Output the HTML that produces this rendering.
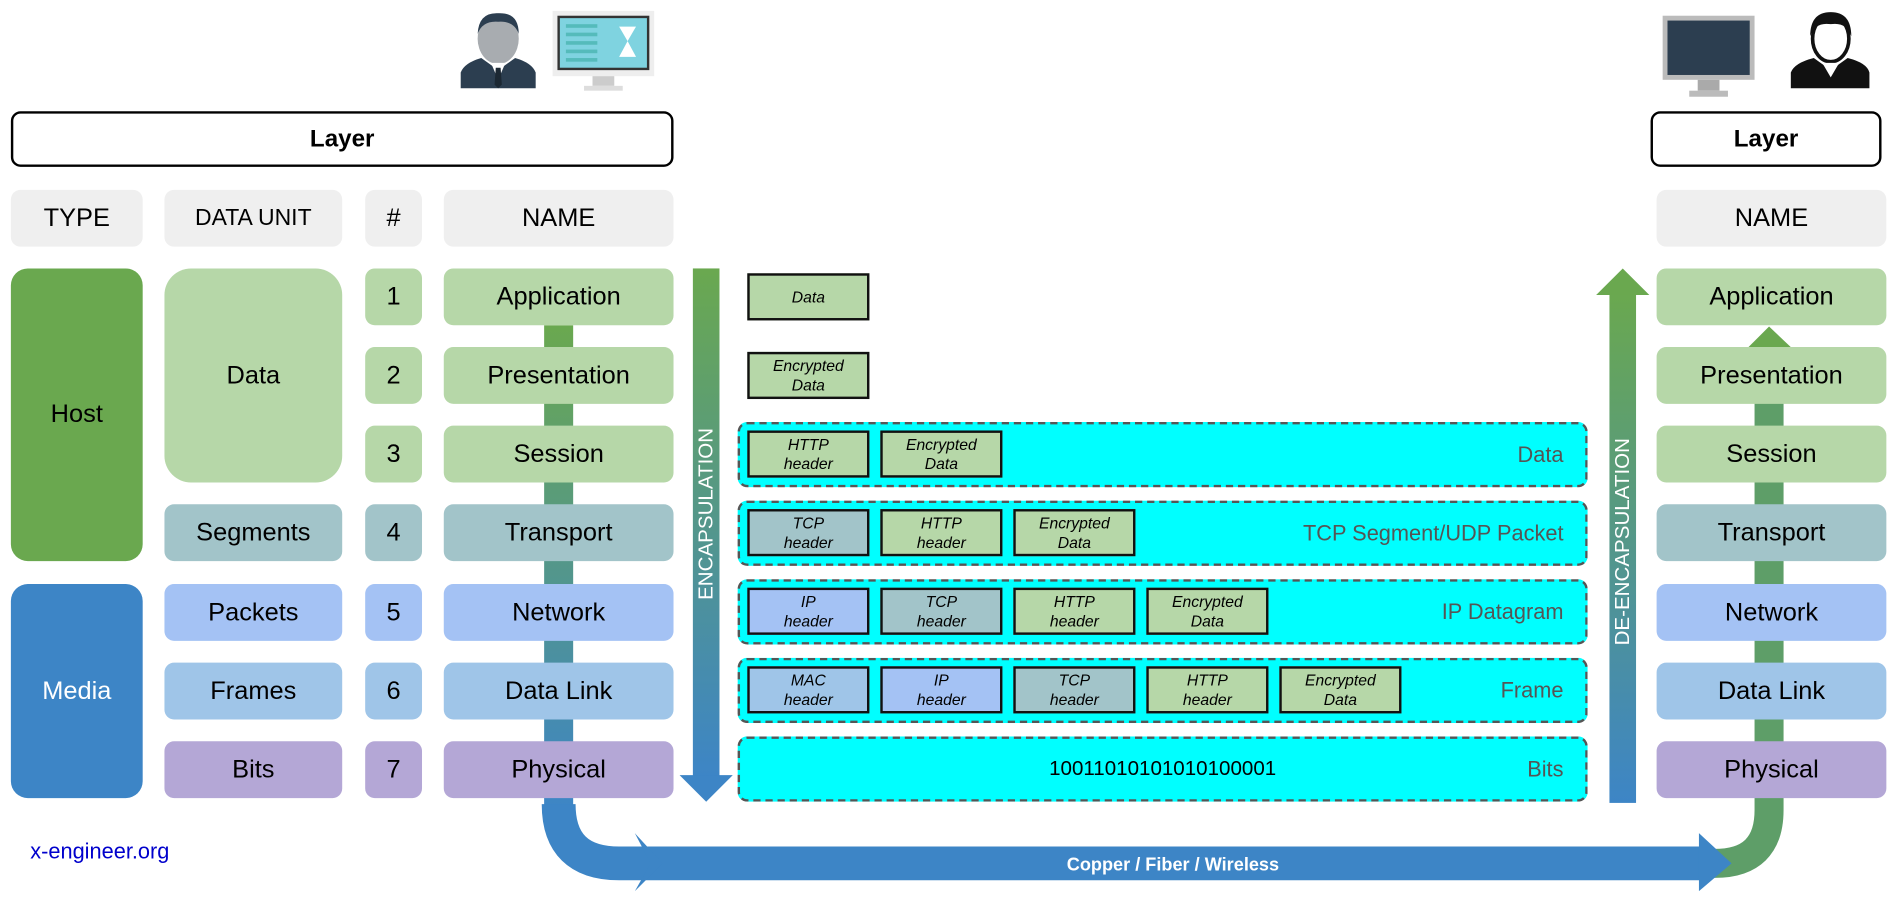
<!DOCTYPE html>
<html><head><meta charset="utf-8"><style>
html,body{margin:0;padding:0;background:#fff;overflow:hidden}
#w{position:absolute;left:0;top:0;width:1568px;height:744px;transform:scale(1.2092);transform-origin:0 0;font-family:"Liberation Sans",sans-serif}
.b{position:absolute;display:flex;align-items:center;justify-content:center;text-align:center;box-sizing:border-box;border-radius:8px;color:#000}
.h{background:#efefef;font-size:21px}
.r{font-size:21px}
.g{background:#b6d7a8}.t{background:#a2c4c9}.n{background:#a4c2f4}.d{background:#9fc5e8}.p{background:#b4a7d6}
.c{position:absolute;left:610px;width:703px;height:54px;background:#00ffff;border:2px dashed #555;border-radius:8px;box-sizing:border-box}
.c .l{position:absolute;right:18px;top:0;height:100%;display:flex;align-items:center;font-size:18px;color:#555}
.ib{position:absolute;width:101px;height:39px;border:2px solid #111;box-sizing:border-box;font-style:italic;font-size:13px;line-height:16px;display:flex;align-items:center;justify-content:center;text-align:center;border-radius:0}
</style></head><body><div id="w">
<svg width="1568" height="744" style="position:absolute;left:0;top:0">
<defs>
<linearGradient id="gv" x1="0" y1="0" x2="0" y2="1"><stop offset="0" stop-color="#6aa84f"/><stop offset="1" stop-color="#3d85c6"/></linearGradient>
</defs>
<rect x="450" y="269" width="24" height="400" fill="url(#gv)"/>
<path d="M462 665 Q462 714 512 714 L1410 714" stroke="#3d85c6" stroke-width="28" fill="none"/>
<path d="M1408 714 L1418 714 Q1463 714 1463 670 L1463 288" stroke="#5e9e68" stroke-width="24" fill="none"/>
<polygon points="1445,288 1482,288 1463,270" fill="#6aa84f"/>
<polygon points="525,689 548,714 525,737 538,714" fill="#3d85c6"/>
<polygon points="1405,689 1432,714 1405,737" fill="#3d85c6"/>
<rect x="573" y="222" width="22" height="420" fill="url(#gv)"/>
<polygon points="562,641 606,641 584,663" fill="#3d85c6"/>
<rect x="1331" y="243" width="22" height="421" fill="url(#gv)"/>
<polygon points="1320,244 1364,244 1342,222" fill="#6aa84f"/>
<text x="584" y="425" transform="rotate(-90 584 425)" text-anchor="middle" dominant-baseline="central" fill="#fff" font-size="17" font-family="Liberation Sans">ENCAPSULATION</text>
<text x="1342" y="448" transform="rotate(-90 1342 448)" text-anchor="middle" dominant-baseline="central" fill="#fff" font-size="17" font-family="Liberation Sans">DE-ENCAPSULATION</text>
<text x="970" y="720" text-anchor="middle" fill="#fff" font-size="15" font-weight="bold" font-family="Liberation Sans">Copper / Fiber / Wireless</text>
<ellipse cx="412" cy="32" rx="17" ry="21" fill="#a8acb0"/>
<path d="M395 28 Q396 10 412 11 Q429 10 429 28 Q425 17 412 18 Q399 17 395 28Z" fill="#2c3e50"/>
<path d="M381 73 L381 60 Q384 52 398 48 L412 58 L426 48 Q440 52 443 60 L443 73Z" fill="#2c3e50"/>
<polygon points="406,52 418,52 412,66" fill="#fff"/><polygon points="410,56 414,56 415,70 412,73 409,70" fill="#1c2833"/>
<rect x="457" y="9" width="84" height="54" fill="#eee"/><rect x="461" y="13" width="76" height="45" fill="#333"/><rect x="463" y="15" width="72" height="41" fill="#7fd3e0"/>
<rect x="468" y="20" width="26" height="3" fill="#5bb"/><rect x="468" y="27" width="26" height="3" fill="#5bb"/><rect x="468" y="34" width="26" height="3" fill="#5bb"/><rect x="468" y="41" width="26" height="3" fill="#5bb"/><rect x="468" y="48" width="26" height="3" fill="#5bb"/>
<polygon points="512,22 526,22 519,34 526,47 512,47 519,34" fill="#fff"/>
<rect x="490" y="63" width="18" height="8" fill="#ccc"/><rect x="483" y="71" width="32" height="4" fill="#ddd"/>
<rect x="1375" y="13" width="76" height="53" fill="#bbb"/><rect x="1379" y="17" width="68" height="45" fill="#2c3e50"/>
<rect x="1404" y="66" width="18" height="9" fill="#aaa"/><rect x="1397" y="75" width="32" height="5" fill="#bbb"/>
<ellipse cx="1514" cy="32" rx="15" ry="19" fill="#fff" stroke="#111" stroke-width="3"/>
<path d="M1497 30 Q1497 10 1514 10 Q1531 10 1531 30 Q1527 18 1514 20 Q1501 18 1497 30Z" fill="#111"/>
<path d="M1481 73 L1481 60 Q1484 52 1500 48 L1514 58 L1528 48 Q1544 52 1546 60 L1546 73Z" fill="#111"/>
<polygon points="1507,52 1521,52 1514,64" fill="#fff"/>
</svg>
<div class="b" style="left:9px;top:92px;width:548px;height:46px;border:2px solid #000;font-weight:bold;font-size:20px">Layer</div>
<div class="b" style="left:1365px;top:92px;width:191px;height:46px;border:2px solid #000;font-weight:bold;font-size:20px">Layer</div>
<div class="b h" style="left:9px;top:157px;width:109px;height:47px">TYPE</div>
<div class="b h" style="left:136px;top:157px;width:147px;height:47px;font-size:19px">DATA UNIT</div>
<div class="b h" style="left:302px;top:157px;width:47px;height:47px">#</div>
<div class="b h" style="left:367px;top:157px;width:190px;height:47px">NAME</div>
<div class="b h" style="left:1370px;top:157px;width:190px;height:47px">NAME</div>
<div class="b r" style="left:9px;top:222px;width:109px;height:242px;background:#6aa84f;border-radius:14px">Host</div>
<div class="b r" style="left:9px;top:483px;width:109px;height:177px;background:#3d85c6;color:#fff;border-radius:14px">Media</div>
<div class="b r g" style="left:136px;top:222px;width:147px;height:177px;border-radius:22px">Data</div>
<div class="b r t" style="left:136px;top:417px;width:147px;height:47px">Segments</div>
<div class="b r n" style="left:136px;top:483px;width:147px;height:47px">Packets</div>
<div class="b r d" style="left:136px;top:548px;width:147px;height:47px">Frames</div>
<div class="b r p" style="left:136px;top:613px;width:147px;height:47px">Bits</div>

<div class="b r g" style="left:302px;top:222px;width:47px;height:47px">1</div>
<div class="b r g" style="left:302px;top:287px;width:47px;height:47px">2</div>
<div class="b r g" style="left:302px;top:352px;width:47px;height:47px">3</div>
<div class="b r t" style="left:302px;top:417px;width:47px;height:47px">4</div>
<div class="b r n" style="left:302px;top:483px;width:47px;height:47px">5</div>
<div class="b r d" style="left:302px;top:548px;width:47px;height:47px">6</div>
<div class="b r p" style="left:302px;top:613px;width:47px;height:47px">7</div>

<div class="b r g" style="left:367px;top:222px;width:190px;height:47px">Application</div>
<div class="b r g" style="left:367px;top:287px;width:190px;height:47px">Presentation</div>
<div class="b r g" style="left:367px;top:352px;width:190px;height:47px">Session</div>
<div class="b r t" style="left:367px;top:417px;width:190px;height:47px">Transport</div>
<div class="b r n" style="left:367px;top:483px;width:190px;height:47px">Network</div>
<div class="b r d" style="left:367px;top:548px;width:190px;height:47px">Data Link</div>
<div class="b r p" style="left:367px;top:613px;width:190px;height:47px">Physical</div>

<div class="b r g" style="left:1370px;top:222px;width:190px;height:47px">Application</div>
<div class="b r g" style="left:1370px;top:287px;width:190px;height:47px">Presentation</div>
<div class="b r g" style="left:1370px;top:352px;width:190px;height:47px">Session</div>
<div class="b r t" style="left:1370px;top:417px;width:190px;height:47px">Transport</div>
<div class="b r n" style="left:1370px;top:483px;width:190px;height:47px">Network</div>
<div class="b r d" style="left:1370px;top:548px;width:190px;height:47px">Data Link</div>
<div class="b r p" style="left:1370px;top:613px;width:190px;height:47px">Physical</div>

<div class="ib g" style="left:618px;top:226px">Data</div>
<div class="ib g" style="left:618px;top:291px">Encrypted<br>Data</div>

<div class="c" style="top:349px"><div class="ib g" style="left:6px;top:5px">HTTP<br>header</div><div class="ib g" style="left:116px;top:5px">Encrypted<br>Data</div><div class="l">Data</div></div>
<div class="c" style="top:414px"><div class="ib t" style="left:6px;top:5px">TCP<br>header</div><div class="ib g" style="left:116px;top:5px">HTTP<br>header</div><div class="ib g" style="left:226px;top:5px">Encrypted<br>Data</div><div class="l">TCP Segment/UDP Packet</div></div>
<div class="c" style="top:479px"><div class="ib n" style="left:6px;top:5px">IP<br>header</div><div class="ib t" style="left:116px;top:5px">TCP<br>header</div><div class="ib g" style="left:226px;top:5px">HTTP<br>header</div><div class="ib g" style="left:336px;top:5px">Encrypted<br>Data</div><div class="l">IP Datagram</div></div>
<div class="c" style="top:544px"><div class="ib d" style="left:6px;top:5px">MAC<br>header</div><div class="ib n" style="left:116px;top:5px">IP<br>header</div><div class="ib t" style="left:226px;top:5px">TCP<br>header</div><div class="ib g" style="left:336px;top:5px">HTTP<br>header</div><div class="ib g" style="left:446px;top:5px">Encrypted<br>Data</div><div class="l">Frame</div></div>
<div class="c" style="top:609px"><div style="position:absolute;left:0;width:699px;top:0;height:100%;display:flex;align-items:center;justify-content:center;font-size:17px">10011010101010100001</div><div class="l">Bits</div></div>

<div style="position:absolute;left:25px;top:694px;font-size:18px;color:#0000cc">x-engineer.org</div>
</div></body></html>
